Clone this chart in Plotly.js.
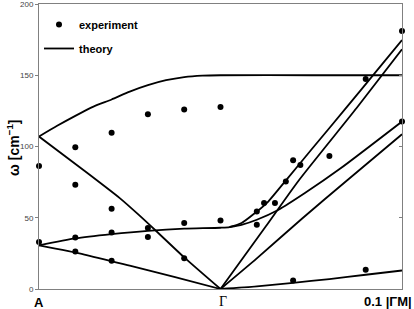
<!DOCTYPE html>
<html>
<head>
<meta charset="utf-8">
<script src="https://cdn.plot.ly/plotly-3.0.1.min.js"></script>
<style>html,body{margin:0;padding:0;background:#fff;}#chart{width:414px;height:309px;}</style>
</head>
<body>
<div id="chart"></div>
<script>
// Experimental points (x: -1 = A, 0 = Gamma, 1 = 0.1|GM|)
const expX = [-1, -1, -0.8, -0.8, -0.8, -0.8, -0.6, -0.6, -0.6, -0.6, -0.4, -0.4, -0.4, -0.2, -0.2, -0.2, 0, 0, 0.2, 0.2, 0.24, 0.3, 0.36, 0.4, 0.44, 0.6, 0.8, 1, 1, 0.4, 0.8];
const expY = [86.4, 32.9, 99.5, 73.1, 36.2, 26.4, 109.6, 56.3, 39.7, 19.8, 122.7, 42.8, 36.5, 125.9, 46.3, 21.5, 127.8, 48.0, 54.4, 45.1, 60.3, 60.3, 75.4, 90.4, 87.1, 93.4, 147.4, 181.1, 117.5, 6.0, 13.5];

// Theory branches
const upperX = [-1, -0.9, -0.8, -0.7, -0.6, -0.5, -0.4, -0.3, -0.2, -0.1, 0, 0.5, 1];
const upperY = [107, 114.5, 121.5, 128, 133, 138.5, 143, 146.5, 148.7, 149.7, 150, 150, 150];
const descX = [-1, -0.75, -0.555, -0.45, -0.362, -0.2, 0];
const descY = [107, 83, 63.8, 52, 41.6, 22.2, 0];
const lowX = [-1, -0.75, -0.5, -0.25, 0];
const lowY = [30.6, 24.2, 16.4, 8.4, 0];
const flatX = [-1, -0.8, -0.6, -0.4, -0.2, 0, 0.05, 0.116, 0.19, 0.263, 0.355, 0.5, 0.7, 0.85, 1];
const flatY = [30.6, 35.5, 38.5, 40.8, 42.3, 43.0, 43.5, 46.3, 53.3, 61.4, 75.4, 97.7, 128.3, 151.5, 174.7];
const cX = [0.05, 0.12, 0.2, 0.32, 0.465, 0.66, 1];
const cY = [43.5, 45.2, 48.6, 55.6, 67.3, 84.5, 117.5];
const dX = [0, 0.25, 0.43, 0.75, 1];
const dY = [0, 44, 76, 127, 168.2];
const bX = [0, 0.2, 0.45, 0.7, 1];
const bY = [0, 21.5, 49.5, 76.5, 108.6];
const aX = [0, 0.2, 0.4, 0.6, 0.8, 1];
const aY = [0, 1.8, 4.3, 7.0, 10.0, 13];

const yTicks = [0, 50, 100, 150, 200];

const branches = [[upperX, upperY], [descX, descY], [lowX, lowY], [flatX, flatY], [cX, cY], [dX, dY], [bX, bY], [aX, aY]];

const traces = [{
  x: expX, y: expY, type: 'scatter', mode: 'markers', name: 'experiment',
  legendgroup: 'exp', cliponaxis: false,
  marker: {color: '#000', size: 6}
}];
branches.forEach((b, i) => {
  traces.push({
    x: b[0], y: b[1], type: 'scatter', mode: 'lines', name: 'theory',
    legendgroup: 'th', showlegend: i === 0,
    line: {color: '#000', width: 1.8, shape: 'spline', smoothing: 0.6}
  });
});
traces.push({x: [0], y: [0], yaxis: 'y2', type: 'scatter', mode: 'markers', showlegend: false, hoverinfo: 'skip', marker: {opacity: 0}});

const font = 'Liberation Sans, Arial, sans-serif';
const layout = {
  width: 414, height: 309,
  margin: {l: 39, r: 12, t: 4, b: 20},
  paper_bgcolor: '#fff', plot_bgcolor: '#fff',
  font: {family: font, color: '#000'},
  showlegend: true,
  legend: {x: 0.0, y: 0.979, xanchor: 'left', yanchor: 'top', bgcolor: 'rgba(0,0,0,0)',
           font: {family: font, size: 11, color: '#000', weight: 'bold'}, tracegroupgap: 5, itemwidth: 30},
  xaxis: {range: [-1, 1], showgrid: false, zeroline: false, showticklabels: false, ticks: '',
          showline: true, linecolor: '#808080', linewidth: 1, mirror: true, fixedrange: true},
  yaxis: {range: [0, 200], tickvals: yTicks, ticktext: yTicks.map(String), showgrid: false, zeroline: false,
          ticks: 'outside', ticklen: 3, tickcolor: '#808080', tickfont: {family: font, size: 8, color: '#444'},
          ticklabeloverflow: 'allow',
          showline: true, linecolor: '#808080', linewidth: 1, mirror: true, fixedrange: true},
  yaxis2: {overlaying: 'y', side: 'right', range: [0, 200], tickvals: yTicks, showticklabels: false,
           ticks: 'inside', ticklen: 3, tickcolor: '#808080', showgrid: false, zeroline: false, showline: false, fixedrange: true},
  annotations: [
    {xref: 'x', yref: 'paper', x: -1, y: -0.049, text: '<b>A</b>', showarrow: false, xanchor: 'center', yanchor: 'middle',
     font: {family: font, size: 13, color: '#000'}},
    {xref: 'x', yref: 'paper', x: 0, xshift: 2.5, y: -0.045, text: 'Γ', showarrow: false, xanchor: 'center', yanchor: 'middle',
     font: {family: 'Liberation Serif, DejaVu Serif, serif', size: 14, color: '#000'}},
    {xref: 'paper', yref: 'paper', x: 1.0317, y: -0.045, text: '<b>0.1 |ΓM|</b>', showarrow: false, xanchor: 'right', yanchor: 'middle',
     font: {family: font, size: 13, color: '#000'}},
    {xref: 'paper', yref: 'paper', x: -0.0716, y: 0.495, text: '<b>ω [cm<sup>−1</sup>]</b>', textangle: -90, showarrow: false,
     xanchor: 'center', yanchor: 'middle', font: {family: font, size: 14, color: '#000'}}
  ]
};
Plotly.newPlot('chart', traces, layout, {staticPlot: true, displayModeBar: false});
</script>
</body>
</html>
